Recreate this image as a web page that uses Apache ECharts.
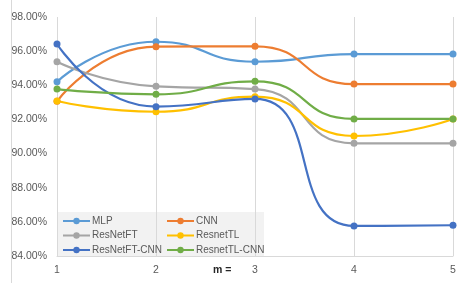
<!DOCTYPE html>
<html><head><meta charset="utf-8">
<script src="https://cdn.jsdelivr.net/npm/echarts@6/dist/echarts.min.js"></script>
<style>html,body{margin:0;padding:0;background:#fff}#c{width:459px;height:283px}</style>
</head><body><div id="c"></div>
<script>
const categories = ['1','2','3','4','5'];
const MLP = [94.2, 96.55, 95.38, 95.83, 95.83];
const CNN = [93.06, 96.26, 96.28, 94.07, 94.07];
const ResNetFT = [95.38, 93.94, 93.78, 90.6, 90.6];
const ResnetTL = [93.08, 92.45, 93.33, 91.03, 92.03];
const ResNetFT_CNN = [96.42, 92.75, 93.2, 85.76, 85.8];
const ResnetTL_CNN = [93.78, 93.47, 94.23, 92.03, 92.03];
const seriesNames = ['MLP','CNN','ResNetFT','ResnetTL','ResNetFT-CNN','ResnetTL-CNN'];
const seriesData = [MLP, CNN, ResNetFT, ResnetTL, ResNetFT_CNN, ResnetTL_CNN];
const colors = ['#5B9BD5','#ED7D31','#A5A5A5','#FFC000','#4472C4','#70AD47'];

const font = 'Liberation Sans';
const legendCommon = {
  orient: 'vertical', top: 213, itemWidth: 27, itemHeight: 8, itemGap: 4.5,
  padding: [3,2,2,2],
  textStyle: {color: '#595959', fontFamily: font, fontSize: 10, padding: [0,0,0,-3]}
};
const chart = echarts.init(document.getElementById('c'));
chart.setOption({
  animation: false,
  color: colors,
  grid: {left: 57, right: 6, top: 17, bottom: 27, containLabel: false},
  xAxis: {
    type: 'category', data: categories, boundaryGap: false,
    axisLine: {lineStyle: {color: '#D9D9D9', width: 1}},
    axisTick: {show: false},
    axisLabel: {color: '#595959', fontFamily: font, fontSize: 10.5, margin: 9},
    splitLine: {show: true, lineStyle: {color: '#D9D9D9', width: 1}}
  },
  yAxis: {
    type: 'value', min: 84, max: 98, interval: 2,
    axisLine: {show: false}, axisTick: {show: false},
    splitLine: {show: false},
    axisLabel: {color: '#595959', fontFamily: font, fontSize: 10.5, margin: 10,
      formatter: v => v.toFixed(2) + '%'}
  },
  legend: [
    Object.assign({data: ['MLP','ResNetFT','ResNetFT-CNN'], left: 60}, legendCommon),
    Object.assign({data: ['CNN','ResnetTL','ResnetTL-CNN'], left: 164}, legendCommon)
  ],
  graphic: [
    {type: 'rect', z: -1, shape: {x: 57, y: 212, width: 207, height: 44}, style: {fill: '#F2F2F2'}},
    {type: 'line', shape: {x1: 11.5, y1: 0, x2: 11.5, y2: 283}, style: {stroke: '#D9D9D9', lineWidth: 1}},
    {type: 'text', left: 213, top: 265, style: {text: 'm =', fill: '#262626', font: 'bold 10.5px "Liberation Sans"'}}
  ],
  series: seriesNames.map((n, i) => ({
    name: n, type: 'line', data: seriesData[i], smooth: 0.55,
    symbol: 'circle', symbolSize: 7,
    lineStyle: {width: 2.2, color: colors[i]},
    itemStyle: {color: colors[i]}
  }))
});
</script></body></html>
